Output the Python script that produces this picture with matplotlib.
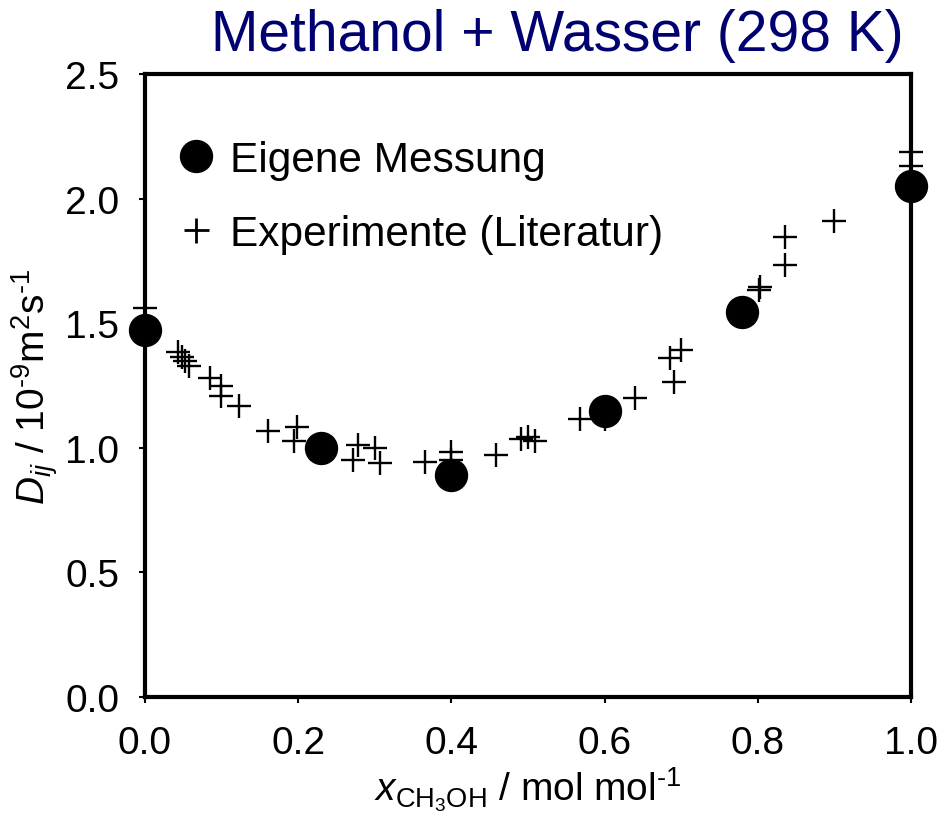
import matplotlib
matplotlib.use("Agg")
import matplotlib.pyplot as plt
from matplotlib.lines import Line2D

plt.rcParams['font.family'] = ['Liberation Sans', 'DejaVu Sans']
plt.rcParams['mathtext.fontset'] = 'custom'
plt.rcParams['mathtext.rm'] = 'Liberation Sans'
plt.rcParams['mathtext.it'] = 'Liberation Sans:italic'

# own measurements (filled circles)
x_own = [0.0, 0.23, 0.40, 0.60, 0.78, 1.0]
d_own = [1.474, 1.00, 0.891, 1.149, 1.544, 2.052]

# literature data (plus markers)
x_lit = [0.0, 0.043, 0.048, 0.052, 0.058, 0.085, 0.099, 0.099, 0.123,
         0.160, 0.199, 0.194, 0.278, 0.272, 0.300, 0.307, 0.366,
         0.400, 0.400, 0.458, 0.491, 0.500, 0.509, 0.568, 0.600,
         0.640, 0.691, 0.685, 0.700, 0.801, 0.803, 0.836, 0.836,
         0.899, 1.0, 1.0]
d_lit = [1.561, 1.386, 1.363, 1.350, 1.327, 1.279, 1.247, 1.207, 1.167,
         1.066, 1.082, 1.026, 1.013, 0.952, 0.998, 0.938, 0.944,
         0.984, 0.952, 0.972, 1.035, 1.042, 1.026, 1.116, 1.117,
         1.199, 1.263, 1.359, 1.394, 1.634, 1.645, 1.734, 1.845,
         1.911, 2.188, 2.132]

xticks = [0.0, 0.2, 0.4, 0.6, 0.8, 1.0]
yticks = [0.0, 0.5, 1.0, 1.5, 2.0, 2.5]

fig = plt.figure(figsize=(9.45, 8.29), dpi=100)
ax = fig.add_axes([145/945, 1-698/829, (911-145)/945, (698-75)/829])

ax.plot(x_lit, d_lit, linestyle='none', marker='+', color='black',
        markersize=17, markeredgewidth=1.7, clip_on=False, zorder=3)
ax.plot(x_own, d_own, linestyle='none', marker='o', color='black',
        markersize=23, clip_on=False, zorder=4)

ax.set_xlim(0, 1.0)
ax.set_ylim(0, 2.5)
ax.set_xticks(xticks)
ax.set_yticks(yticks)
ax.set_xticklabels([f"{v:.1f}" for v in xticks])
ax.set_yticklabels([f"{v:.1f}" for v in yticks])
ax.tick_params(direction='out', length=4.5, width=1.5, labelsize=28, pad=16)
ax.tick_params(axis='y', pad=14)
for s in ax.spines.values():
    s.set_linewidth(3)
    s.set_zorder(5)

# hyphen (U+2010) instead of the mathtext minus, like the original
ax.set_xlabel(r"$x_{\mathrm{CH_3OH}}$ / mol mol$^{\mathrm{‐1}}$", fontsize=28, labelpad=2)
ax.set_ylabel(r"$D_{ij}$ / 10$^{\mathrm{‐9}}$m$^{2}$s$^{\mathrm{‐1}}$", fontsize=28, labelpad=4)

handles = [Line2D([], [], linestyle='none', marker='o', color='black', markersize=23),
           Line2D([], [], linestyle='none', marker='+', color='black',
                  markersize=18, markeredgewidth=2)]
ax.legend(handles, ["Eigene Messung", "Experimente (Literatur)"],
          loc='upper left', bbox_to_anchor=(0.0, 0.955), frameon=False,
          fontsize=30.5, handlelength=0.6, handletextpad=0.5, labelspacing=0.8)

fig.text(557/945, 1-36/829, "Methanol + Wasser (298 K)", color='#000070',
         fontsize=41, ha='center', va='center')

fig.savefig("out.png", dpi=100)
